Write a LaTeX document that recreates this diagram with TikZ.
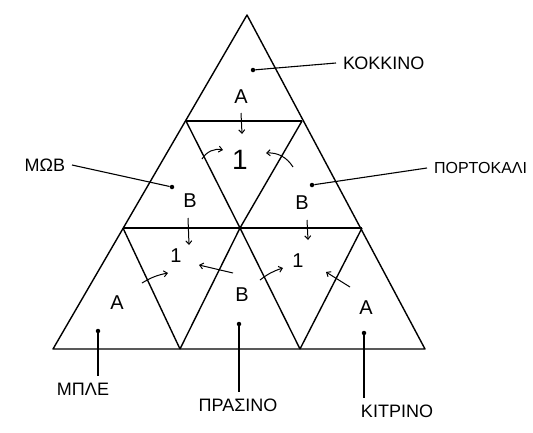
\documentclass[tikz,border=0pt]{standalone}
\usepackage{fontspec}
\setmainfont{Liberation Sans}
\usetikzlibrary{arrows.meta}

\begin{document}
\begin{tikzpicture}[
				x=1pt, y=-1pt,
				edge/.style={line width=1.4pt, line join=round},
				lead/.style={line width=1.1pt},
				pin/.style={circle, fill, inner sep=0pt, minimum size=4.5pt},
				letter/.style={font=\fontsize{20}{20}\selectfont, inner sep=1pt},
				colour/.style={font=\fontsize{18}{18}\selectfont, inner sep=1pt, outer sep=6pt},
				arrow/.style={-{Straight Barb[length=3.5pt, width=6pt]}, line width=1pt}
			]
			\useasboundingbox (0,0) rectangle (533,432);

			% corners of the nine small triangles
			\coordinate (top) at (247,15);
			\coordinate (l1) at (186,121);
			\coordinate (r1) at (302,121);
			\coordinate (l2) at (123,228);
			\coordinate (c2) at (240,228);
			\coordinate (r2) at (362,228);
			\coordinate (b0) at (53,349);
			\coordinate (b1) at (180,349);
			\coordinate (b2) at (300,349);
			\coordinate (b3) at (425,349);

			\draw[edge] (top) -- (b0) -- (b3) -- cycle;
			\draw[edge] (l1) -- (r1);
			\draw[edge] (l2) -- (r2);
			\draw[edge] (l1) -- (c2) -- (b2);
			\draw[edge] (r1) -- (c2) -- (b1);
			\draw[edge] (l2) -- (b1);
			\draw[edge] (r2) -- (b2);

			% letters
			\node[letter] (aTop) at (241,97) {A};
			\node[letter, font=\fontsize{28}{28}\selectfont] (oneTop) at (240,160) {1};
			\node[letter] (bLeft) at (190,201) {B};
			\node[letter] (bRight) at (302,203) {B};
			\node[letter] (oneLeft) at (176,256) {1};
			\node[letter] (oneRight) at (298,261) {1};
			\node[letter] (aLeft) at (117,303) {A};
			\node[letter] (bMid) at (242,295) {B};
			\node[letter] (aRight) at (366,308) {A};

			% small arrows
			\coordinate (s1) at (241,113);  \coordinate (e1) at (242,134);
			\coordinate (s2) at (202,159);  \coordinate (e2) at (223,150);
			\coordinate (s3) at (293,167);  \coordinate (e3) at (266,153);
			\coordinate (s4) at (188,218);  \coordinate (e4) at (189,245);
			\coordinate (s5) at (307,220);  \coordinate (e5) at (308,240);
			\coordinate (s6) at (142,283);  \coordinate (e6) at (168,273);
			\coordinate (s7) at (233,273);  \coordinate (e7) at (199,265);
			\coordinate (s8) at (260,280);  \coordinate (e8) at (283,268);
			\coordinate (s9) at (350,287);  \coordinate (e9) at (326,272);

			\draw[arrow] (s1) -- (e1);
			\draw[arrow] (s2) to[bend left=35] (e2);
			\draw[arrow] (s3) to[bend right=30] (e3);
			\draw[arrow] (s4) -- (e4);
			\draw[arrow] (s5) -- (e5);
			\draw[arrow] (s6) to[bend left=10] (e6);
			\draw[arrow] (s7) -- (e7);
			\draw[arrow] (s8) to[bend left=10] (e8);
			\draw[arrow] (s9) -- (e9);

			% colour pins and their names
			\node[pin] (pinRed) at (253,70) {};
			\node[pin] (pinPurple) at (172,187) {};
			\node[pin] (pinOrange) at (312,185) {};
			\node[pin] (pinBlue) at (98,331) {};
			\node[pin] (pinGreen) at (239,324) {};
			\node[pin] (pinYellow) at (364,333) {};

			\node[colour, anchor=west] (red) at (336,63) {ΚΟΚΚΙΝΟ};
			\node[colour, anchor=east] (purple) at (72,165) {ΜΩΒ};
			\node[colour, anchor=west, font=\fontsize{16}{16}\selectfont] (orange) at (427,168) {ΠΟΡΤΟΚΑΛΙ};
			\node[colour, anchor=north] (blue) at (83,376) {ΜΠΛΕ};
			\node[colour, anchor=north] (green) at (238,392) {ΠΡΑΣΙΝΟ};
			\node[colour, anchor=north] (yellow) at (397,398) {ΚΙΤΡΙΝΟ};

			\draw[lead] (pinRed) -- (red.west);
			\draw[lead] (purple.east) -- (pinPurple);
			\draw[lead] (pinOrange) -- (orange.west);
			\draw[lead] (pinBlue) -- (pinBlue |- blue.north);
			\draw[lead] (pinGreen) -- (pinGreen |- green.north);
			\draw[lead] (pinYellow) -- (pinYellow |- yellow.north);

		\end{tikzpicture}
\end{document}
